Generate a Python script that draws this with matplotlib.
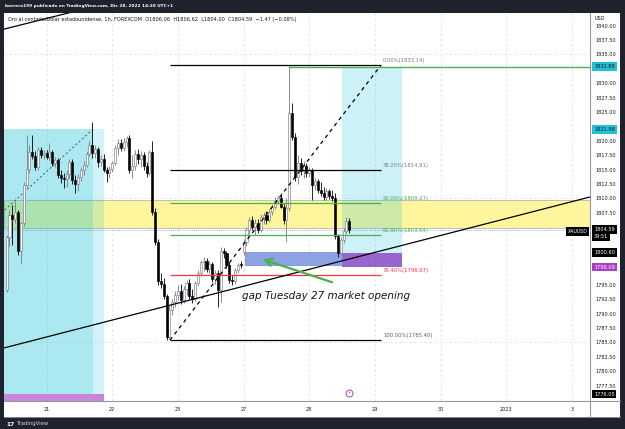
"""
XAUUSD 1h chart (FOREXCOM), TradingView-style screenshot rebuild.
Candles from Dec 20 (late) to Dec 28 14:00, with fib retracement,
position tools, gap box and trend lines.
"""

import numpy as np
import matplotlib
matplotlib.use("Agg")
import matplotlib.pyplot as plt
from matplotlib.patches import Rectangle
from matplotlib.lines import Line2D

# --- DATA ---
# hourly bars, first bar index is -14 (bar 0 = first bar of Dec 21)
FIRST_BAR = -14
opens = [1794.1, 1803.3, 1807.1, 1806.4, 1807.6, 1800.8, 1805.7, 1812.3, 1815.2, 1818.0,
         1817.4, 1815.5, 1818.5, 1817.6, 1817.9, 1817.2, 1818.1, 1816.1, 1816.7, 1814.1,
         1813.6, 1813.4, 1814.2, 1816.4, 1813.2, 1812.5, 1813.8, 1815.0, 1815.8, 1817.8,
         1819.3, 1817.9, 1818.6, 1816.4, 1816.9, 1815.0, 1814.4, 1815.2, 1816.1, 1818.7,
         1819.6, 1818.8, 1819.8, 1820.5, 1815.0, 1815.6, 1817.7, 1816.9, 1817.5, 1815.6,
         1814.4, 1818.0, 1807.7, 1802.5, 1795.6, 1795.2, 1793.0, 1786.0, 1790.6, 1792.0,
         1793.2, 1794.0, 1792.4, 1794.2, 1795.3, 1793.1, 1792.6, 1795.3, 1797.0, 1798.9,
         1799.2, 1797.8, 1798.6, 1796.0, 1797.0, 1794.1, 1800.8, 1800.5, 1798.5, 1795.9,
         1795.6, 1797.6, 1798.5, 1800.7, 1802.4, 1804.5, 1806.2, 1805.1, 1805.8, 1804.6,
         1806.8, 1807.1, 1806.3, 1807.7, 1808.6, 1809.5, 1810.0, 1808.6, 1806.2, 1808.3,
         1824.8, 1820.7, 1813.8, 1816.1, 1814.8, 1815.7, 1814.5, 1814.9, 1812.4, 1813.0,
         1811.5, 1810.9, 1810.3, 1811.3, 1810.4, 1810.0, 1803.4, 1800.5, 1802.8, 1804.3,
         1806.06]
highs = [1803.7, 1808.0, 1808.9, 1809.6, 1808.0, 1806.0, 1812.8, 1821.0, 1819.3, 1821.0,
         1818.3, 1818.9, 1819.0, 1818.4, 1818.5, 1819.7, 1818.5, 1817.2, 1817.1, 1815.0,
         1814.5, 1815.0, 1816.8, 1816.9, 1814.0, 1814.3, 1815.5, 1816.5, 1818.3, 1820.0,
         1823.3, 1819.2, 1819.0, 1817.5, 1817.8, 1815.5, 1815.6, 1816.5, 1819.2, 1820.4,
         1820.3, 1820.5, 1820.9, 1821.0, 1817.5, 1818.5, 1818.6, 1818.3, 1818.0, 1816.3,
         1818.5, 1820.0, 1808.3, 1803.0, 1797.0, 1796.2, 1793.5, 1791.5, 1792.5, 1794.0,
         1795.0, 1795.2, 1794.8, 1795.8, 1796.0, 1794.3, 1795.6, 1797.6, 1799.3, 1799.8,
         1799.6, 1799.2, 1799.0, 1797.5, 1797.6, 1801.6, 1801.4, 1800.9, 1799.0, 1796.8,
         1797.9, 1798.8, 1799.2, 1803.0, 1805.0, 1806.8, 1806.9, 1806.5, 1806.4, 1807.3,
         1807.6, 1807.9, 1808.2, 1809.0, 1810.2, 1810.6, 1811.0, 1809.2, 1810.0, 1833.1,
         1826.5, 1821.3, 1817.5, 1817.0, 1816.5, 1816.2, 1815.5, 1815.3, 1813.6, 1813.4,
         1812.8, 1812.0, 1811.8, 1811.6, 1811.5, 1811.0, 1803.9, 1803.3, 1804.8, 1806.8,
         1806.62]
lows = [1793.8, 1801.7, 1801.9, 1805.8, 1800.2, 1798.6, 1805.3, 1812.0, 1814.5, 1816.8,
        1815.0, 1815.0, 1817.0, 1816.9, 1816.8, 1816.6, 1815.6, 1815.4, 1813.6, 1812.6,
        1811.8, 1812.0, 1813.5, 1812.5, 1811.0, 1811.3, 1813.0, 1814.0, 1815.4, 1817.3,
        1817.0, 1817.0, 1815.5, 1815.6, 1814.6, 1812.9, 1813.6, 1814.6, 1815.8, 1817.5,
        1818.2, 1818.2, 1819.0, 1814.5, 1813.6, 1815.0, 1816.0, 1815.4, 1815.0, 1813.8,
        1814.0, 1807.2, 1802.0, 1795.0, 1794.4, 1792.5, 1785.4, 1785.6, 1789.8, 1791.2,
        1792.3, 1791.6, 1791.8, 1793.2, 1792.6, 1791.8, 1792.2, 1794.8, 1796.5, 1797.4,
        1797.3, 1797.0, 1795.5, 1795.2, 1791.2, 1792.1, 1799.6, 1798.0, 1795.4, 1794.9,
        1795.2, 1797.0, 1797.9, 1800.2, 1801.8, 1803.8, 1804.6, 1803.7, 1804.0, 1804.2,
        1805.5, 1805.6, 1805.9, 1807.2, 1808.2, 1809.0, 1808.3, 1805.5, 1802.5, 1807.8,
        1820.2, 1813.0, 1812.5, 1814.0, 1813.5, 1813.7, 1813.8, 1809.7, 1811.5, 1811.0,
        1810.5, 1809.8, 1809.8, 1809.9, 1809.6, 1803.0, 1799.9, 1800.2, 1802.3, 1804.0,
        1804.00]
closes = [1803.3, 1807.1, 1806.4, 1807.6, 1800.8, 1805.7, 1812.3, 1815.2, 1818.0, 1817.4,
          1815.5, 1818.5, 1817.6, 1817.9, 1817.2, 1818.1, 1816.1, 1816.7, 1814.1, 1813.6,
          1813.4, 1814.2, 1816.4, 1813.2, 1812.5, 1813.8, 1815.0, 1815.8, 1817.8, 1819.3,
          1817.9, 1818.6, 1816.4, 1816.9, 1815.0, 1814.4, 1815.2, 1816.1, 1818.7, 1819.6,
          1818.8, 1819.8, 1820.5, 1815.0, 1815.6, 1817.7, 1816.9, 1817.5, 1815.6, 1814.4,
          1818.0, 1807.7, 1802.5, 1795.6, 1795.2, 1793.0, 1786.0, 1790.6, 1792.0, 1793.2,
          1794.0, 1792.4, 1794.2, 1795.3, 1793.1, 1792.6, 1795.3, 1797.0, 1798.9, 1799.2,
          1797.8, 1798.6, 1796.0, 1797.0, 1794.1, 1800.8, 1800.5, 1798.5, 1795.9, 1795.6,
          1797.6, 1798.5, 1798.4, 1802.4, 1804.5, 1806.2, 1805.1, 1805.8, 1804.6, 1806.8,
          1807.1, 1806.3, 1807.7, 1808.6, 1809.5, 1810.0, 1808.6, 1806.2, 1808.3, 1824.8,
          1820.7, 1813.8, 1816.1, 1814.8, 1815.7, 1814.5, 1814.9, 1812.4, 1813.0, 1811.5,
          1810.9, 1810.3, 1811.3, 1810.4, 1810.0, 1803.4, 1800.5, 1802.8, 1804.3, 1806.06,
          1804.59]

day_ticks = [0, 23, 46, 69, 92, 115, 138, 161, 184]
day_labels = ['21', '22', '23', '27', '28', '29', '30', '2023', '3']

fib_names = ['0.00%', '38.20%', '50.00%', '61.80%', '76.40%', '100.00%']
fib_prices = [1833.14, 1814.91, 1809.27, 1803.64, 1796.67, 1785.40]
fib_line_colors = ['#000000', '#000000', '#4caf50', '#4caf50', '#f23645', '#000000']
fib_text_colors = ['#787b86', '#787b86', '#4caf50', '#4caf50', '#f23645', '#5d606b']
fib_bars = [43.2, 117.1]          # start / end of the fib drawing

last_price = 1804.59
target_line = 1832.88
zone_top, zone_bottom = 1809.7, 1804.8          # yellow band
left_tool = dict(top=1821.98, entry=1776.05, x0=-16, x1=16.1, x2=20.1)
right_tool = dict(top=1832.88, entry=1800.60, stop=1798.09, x0=103.3, x1=124.3)
gap_box = dict(x0=69.5, x1=103.3, low=1798.4, high=1800.7)

axis_labels = [  # price, text, background, text colour
    (1832.88, '1832.88', '#22c1d6', '#131722'),
    (1821.98, '1821.98', '#22c1d6', '#131722'),
    (1804.59, '1804.59', '#000000', '#ffffff'),
    (1800.60, '1800.60', '#000000', '#ffffff'),
    (1798.09, '1798.09', '#a83fc8', '#ffffff'),
    (1776.05, '1776.05', '#000000', '#ffffff'),
]

W, H = 625, 429
BG = '#1e222d'


def fx(px):
    return px / W


def fy(py):
    return 1 - py / H


fig = plt.figure(figsize=(W / 100, H / 100), dpi=100, facecolor=BG)
fig.patches.append(Rectangle((fx(4), fy(416.7)), fx(616), (416.7 - 13) / H,
                             transform=fig.transFigure, fc='white', ec='none', zorder=-5))

ax = fig.add_axes([fx(4), fy(401), fx(586), (401 - 13) / H])
ax.set_xlim(-14.92, 190.3)
ax.set_ylim(1774.84, 1842.2)
for s in ax.spines.values():
    s.set_visible(False)

# grid
for t in day_ticks:
    ax.axvline(t, color='#dfe2ea', lw=0.6, ls=(0, (3, 3)), zorder=0)
for p in [1785, 1810, 1835]:
    ax.axhline(p, color='#dfe2ea', lw=0.6, ls=(0, (3, 3)), zorder=0)

# yellow band
ax.axhspan(zone_bottom, zone_top, fc='#fff59d', ec='#b2b5be', lw=0.6, zorder=1)

# left position tool
lt = left_tool
ax.add_patch(Rectangle((lt['x0'], lt['entry']), lt['x1'] - lt['x0'], lt['top'] - lt['entry'],
                       fc='#00bcd4', alpha=0.33, ec='none', zorder=1.5))
ax.add_patch(Rectangle((lt['x1'], lt['entry']), lt['x2'] - lt['x1'], lt['top'] - lt['entry'],
                       fc='#00bcd4', alpha=0.18, ec='none', zorder=1.5))
ax.add_patch(Rectangle((lt['x0'], lt['entry'] - 6), lt['x2'] - lt['x0'], 6,
                       fc='#b35fd0', alpha=0.75, ec='none', zorder=1.5))
ax.plot([-14.7, lt['x1']], [1808.0, lt['top']], color='#50535e', lw=0.7,
        ls=(0, (2, 2.5)), zorder=2)

# right position tool
rt = right_tool
ax.add_patch(Rectangle((rt['x0'], rt['entry']), rt['x1'] - rt['x0'], rt['top'] - rt['entry'],
                       fc='#00bcd4', alpha=0.2, ec='none', zorder=1.5))
ax.add_patch(Rectangle((rt['x0'], rt['stop']), rt['x1'] - rt['x0'], rt['entry'] - rt['stop'],
                       fc='#7e3fc4', alpha=0.8, ec='none', zorder=1.5))

# gap box
gb = gap_box
ax.add_patch(Rectangle((gb['x0'], gb['low']), gb['x1'] - gb['x0'], gb['high'] - gb['low'],
                       fc='#8ca2e2', ec='#6f86cc', lw=0.5, zorder=1.6))

# current price line
ax.axhline(last_price, color='#9598a1', lw=0.6, ls=(0, (1, 1.5)), zorder=2)

# candles
o = np.array(opens)
h = np.array(highs)
l = np.array(lows)
c = np.array(closes)
x = np.arange(FIRST_BAR, FIRST_BAR + len(o))
up = c >= o
wick_col = np.where(up, '#787b86', '#000000')
ax.vlines(x, l, h, colors=wick_col, lw=0.6, zorder=3)
body = np.maximum(np.abs(c - o), 0.15)
ax.bar(x[up], body[up], bottom=np.minimum(o, c)[up], width=0.72,
       color='white', edgecolor='#787b86', linewidth=0.45, zorder=4)
ax.bar(x[~up], body[~up], bottom=np.minimum(o, c)[~up], width=0.72,
       color='black', edgecolor='black', linewidth=0.45, zorder=4)

# fib retracement
ax.hlines(fib_prices, fib_bars[0], fib_bars[1], colors=fib_line_colors, lw=0.9, zorder=5)
ax.plot(fib_bars, [fib_prices[-1], fib_prices[0]], color='black', lw=0.9,
        ls=(0, (3, 3)), zorder=5)
for name, p, col in zip(fib_names, fib_prices, fib_text_colors):
    ax.text(fib_bars[1] + 0.7, p + 0.75, f'{name}({p:.2f})', fontsize=3.8, color=col,
            ha='left', va='center', zorder=6)

# trend lines
ax.plot([-14.92, 190.3], [1784.05, 1810.26], color='black', lw=0.9, zorder=5)
ax.plot([-14.92, 12.0], [1839.4, 1842.75], color='black', lw=0.9, zorder=5)
ax.hlines(target_line, 85, 190.3, colors='#4caf50', lw=1.0, zorder=5)

# arrow + note
ax.annotate('', xy=(74.7, 1799.6), xytext=(100.9, 1795.3),
            arrowprops=dict(arrowstyle='->', color='#4caf50', lw=1.6, mutation_scale=13),
            zorder=7)
ax.text(68.4, 1793.1, 'gap Tuesday 27 market opening', fontsize=7.5, style='italic',
        color='#131722', ha='left', va='center', zorder=7)

# event marker
ax.plot(106, 1776.3, 'o', ms=5, mfc='white', mec='#9c27b0', mew=0.6, zorder=8, clip_on=False)
ax.text(106, 1776.3, '\u26a1', fontsize=3, color='#9c27b0', ha='center', va='center', zorder=9)

# axes / ticks (tick labels hidden where a price label sits on top, as TradingView does)
yt = np.arange(1777.5, 1841, 2.5)
covered = [p for p, *_ in axis_labels] + [last_price - 1.25]
ylabels = ['' if min(abs(v - q) for q in covered) < 1.3 else f'{v:.2f}' for v in yt]
ax.yaxis.tick_right()
ax.set_yticks(yt)
ax.set_yticklabels(ylabels)
ax.tick_params(axis='y', length=0, pad=3.6, labelsize=3.6, labelcolor='#131722')
ax.set_xticks(day_ticks)
ax.set_xticklabels(day_labels)
ax.tick_params(axis='x', length=0, pad=4.5, labelsize=3.6, labelcolor='#131722')

ytr = ax.get_yaxis_transform()
for p, txt, bg, tc in axis_labels:
    ax.text(1.007, p, txt, transform=ytr, fontsize=3.6, color=tc, ha='left', va='center',
            bbox=dict(boxstyle='square,pad=0.35', fc=bg, ec='none'), zorder=10, clip_on=False)
ax.text(1.007, last_price - 1.25, '39:51', transform=ytr, fontsize=3.6, color='white',
        ha='left', va='center', bbox=dict(boxstyle='square,pad=0.35', fc='black', ec='none'),
        zorder=10, clip_on=False)
ax.text(0.996, last_price - 0.3, 'XAUUSD', transform=ytr, fontsize=3.4, color='white',
        ha='right', va='center', bbox=dict(boxstyle='square,pad=0.35', fc='black', ec='none'),
        zorder=10, clip_on=False)

# panel separators
fig.add_artist(Line2D([fx(4), fx(620)], [fy(401), fy(401)], color='#9598a1', lw=0.8))
fig.add_artist(Line2D([fx(590), fx(590)], [fy(13), fy(416.7)], color='#9598a1', lw=0.8))
fig.add_artist(Line2D([fx(4), fx(620)], [fy(416.7), fy(416.7)], color='#9598a1', lw=0.6))

# texts
fig.text(fx(595), fy(18.5), 'USD', fontsize=3.6, color='#131722', va='center',
         bbox=dict(boxstyle='square,pad=0.6', fc='white', ec='none'))
fig.text(fx(5), fy(6), 'borrero199 publicado en TradingView.com, Dic 28, 2022 14:20 UTC+1',
         fontsize=3.1, color='white', weight='bold', va='center')
fig.text(fx(8), fy(19.5),
         'Oro al contado/Dólar estadounidense, 1h, FOREXCOM  O1806.06  H1806.62  '
         'L1804.00  C1804.59  \u22121.47 (\u22120.08%)',
         fontsize=3.6, color='#131722', va='center')
fig.text(fx(6), fy(424), '17', fontsize=4.2, color='white', weight='bold', va='center')
fig.text(fx(17), fy(424), 'TradingView', fontsize=3.8, color='#d1d4dc', va='center')

fig.savefig('out.png', dpi=100, facecolor=BG)
